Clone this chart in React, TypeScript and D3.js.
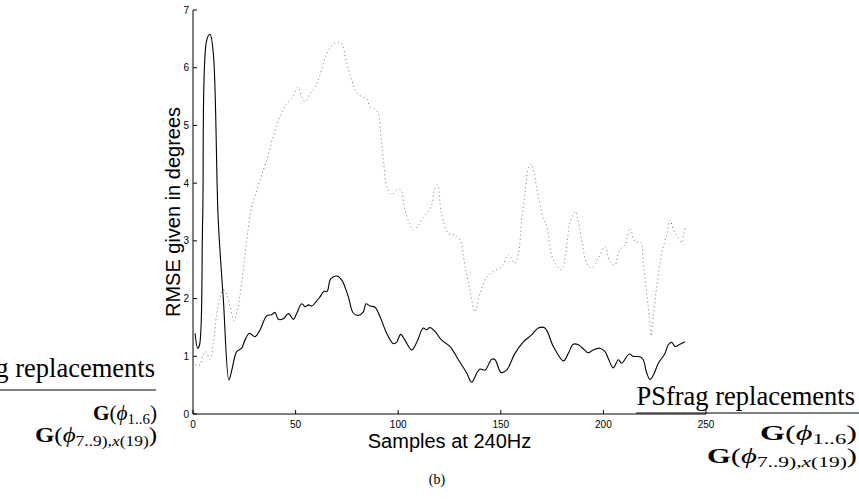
import * as d3 from "d3";

// solid curve (black)
const solidX = [1, 2.3, 3.2, 4.7, 6.7, 8.3, 9.9, 12.3, 14.8, 17.5, 18.9, 21.3, 23.7, 25.3, 27.5, 30.2, 32.7, 35.9, 38.3, 40, 41.6, 44, 46.5, 48.9, 50.5, 53, 54.6, 56.2, 57.9, 60.3, 61.9, 64, 65.3, 67.1, 70, 72.5, 75.7, 78.1, 80.8, 83, 84.3, 86.3, 88.7, 91.1, 94.4, 97.6, 99.2, 101.2, 103.3, 106.6, 109, 112.2, 113.8, 115.5, 117.9, 121.2, 125.2, 129.3, 133.4, 135.8, 138.3, 139.9, 142.3, 145.6, 147.2, 150.1, 152.8, 156.9, 161, 165, 168.3, 171.5, 175.6, 180.5, 182.9, 185.3, 187.8, 190.2, 192.6, 195, 198.3, 200.8, 202.4, 204.8, 207.3, 208.9, 212.6, 214.5, 217.8, 219.4, 221.1, 222.7, 224.3, 226.8, 230, 231.6, 233.3, 234.9, 237.3, 239.8];
const solidY = [1.4, 1.14, 1.2, 3.36, 6.48, 6.58, 6.25, 3.36, 1.98, 0.59, 0.76, 1.08, 1.14, 1.28, 1.4, 1.34, 1.46, 1.7, 1.72, 1.76, 1.64, 1.65, 1.74, 1.64, 1.74, 1.91, 1.86, 1.89, 1.87, 1.96, 2.03, 2.13, 2.12, 2.34, 2.39, 2.32, 2.03, 1.75, 1.71, 1.77, 1.91, 1.87, 1.85, 1.69, 1.4, 1.22, 1.24, 1.38, 1.28, 1.11, 1.24, 1.49, 1.46, 1.5, 1.43, 1.28, 1.17, 0.94, 0.71, 0.55, 0.71, 0.78, 0.76, 0.95, 0.94, 0.72, 0.76, 1.05, 1.25, 1.37, 1.49, 1.49, 1.17, 0.92, 1.05, 1.21, 1.2, 1.13, 1.06, 1.11, 1.14, 1.08, 0.96, 0.8, 0.94, 0.88, 1.04, 1, 0.99, 0.94, 0.71, 0.6, 0.67, 0.88, 1.05, 1.2, 1.24, 1.17, 1.21, 1.25];

// dotted curve (grey)
const dottedX = [1, 3.4, 4.7, 6.3, 8.3, 9.9, 11.5, 13.2, 14.8, 16.4, 18, 20, 21.6, 23.7, 26.2, 28.6, 30.2, 32.7, 35.9, 39.1, 42.4, 45.3, 48, 51.3, 53, 54.6, 57, 59.5, 61.9, 65.2, 68.4, 70.8, 72.4, 74.9, 77.3, 79.8, 82.2, 84.3, 86.3, 88.7, 90.3, 91.5, 92.8, 94.4, 96.8, 99.3, 101.2, 103.3, 105.5, 107.4, 109.5, 111.5, 114.7, 116.3, 117.9, 119.2, 121, 124.4, 127.6, 130.1, 132.6, 135, 137.4, 139.9, 143.1, 146.4, 150.4, 153.7, 156.9, 158.6, 160.2, 161.5, 162.3, 163.4, 164.9, 166.2, 167.5, 169.1, 170.7, 172.4, 175.6, 179.7, 181.7, 183.7, 186.3, 189.4, 191.9, 194.3, 197.5, 200.8, 203.2, 205.6, 207.8, 210.5, 213, 215.4, 218.1, 219.4, 221.1, 222.4, 223.2, 224.3, 226, 228.4, 230.9, 232.5, 234.1, 236.5, 238.1, 239.2, 240];
const dottedY = [0.85, 0.85, 1, 1.08, 0.95, 1.22, 1.72, 2.03, 2.15, 2.08, 1.87, 1.62, 1.79, 2.27, 3.02, 3.59, 3.77, 4.06, 4.4, 4.81, 5.15, 5.36, 5.46, 5.66, 5.5, 5.41, 5.55, 5.66, 5.87, 6.25, 6.41, 6.44, 6.42, 6.08, 5.79, 5.56, 5.5, 5.47, 5.33, 5.28, 5.2, 4.81, 4.4, 3.94, 3.8, 3.88, 3.89, 3.54, 3.3, 3.19, 3.25, 3.36, 3.51, 3.62, 3.91, 3.97, 3.5, 3.13, 3.1, 3.02, 2.55, 2.15, 1.77, 2.09, 2.38, 2.47, 2.55, 2.76, 2.61, 2.78, 3.36, 3.72, 3.98, 4.26, 4.33, 4.18, 3.91, 3.65, 3.39, 3.25, 2.67, 2.5, 2.8, 3.31, 3.51, 3.02, 2.61, 2.53, 2.7, 2.9, 2.64, 2.58, 2.84, 2.93, 3.22, 2.98, 2.98, 2.61, 2.09, 1.69, 1.35, 1.69, 2.21, 2.78, 3.12, 3.36, 3.19, 3.05, 2.97, 3.12, 3.27];

const xTicks = [0, 50, 100, 150, 200, 250];
const yTicks = [0, 1, 2, 3, 4, 5, 6, 7];

const sans = "'Liberation Sans', Arial, sans-serif";
const serif = "'Liberation Serif', 'Times New Roman', serif";

type ReplProps = {
  x: number;
  y: number;
  underline: [number, number, number];
  lines: [number, number];
  widths: [number, number];
};

function Replacements({ x, y, underline, lines, widths }: ReplProps) {
  return (
    <g fontFamily={serif} fill="#000">
      <text x={x} y={y} fontSize={26.5} textAnchor="end">PSfrag replacements</text>
      <line x1={underline[0]} x2={underline[1]} y1={underline[2]} y2={underline[2]} stroke="#000" strokeWidth={1} />
      <text x={x + 2 - widths[0]} y={lines[0]} fontSize={20} textLength={widths[0]} lengthAdjust="spacingAndGlyphs">
        <tspan fontWeight="bold">G</tspan>
        <tspan>(</tspan>
        <tspan fontStyle="italic">ϕ</tspan>
        <tspan fontSize={14} dy={4}>1..6</tspan>
        <tspan dy={-4}>)</tspan>
      </text>
      <text x={x + 2 - widths[1]} y={lines[1]} fontSize={20} textLength={widths[1]} lengthAdjust="spacingAndGlyphs">
        <tspan fontWeight="bold">G</tspan>
        <tspan>(</tspan>
        <tspan fontStyle="italic">ϕ</tspan>
        <tspan fontSize={14} dy={4}>7..9),</tspan>
        <tspan fontSize={14} fontStyle="italic">x</tspan>
        <tspan fontSize={14}>(19)</tspan>
        <tspan dy={-4}>)</tspan>
      </text>
    </g>
  );
}

export default function App() {
  const width = 859;
  const height = 499;
  const x = d3.scaleLinear().domain([0, 250]).range([193, 706]);
  const y = d3.scaleLinear().domain([0, 7]).range([414, 10]);

  const line = d3
    .line<[number, number]>()
    .x((d) => x(d[0]))
    .y((d) => y(d[1]))
    .curve(d3.curveCatmullRom.alpha(0.5));

  const solid = solidX.map((v, i) => [v, solidY[i]] as [number, number]);
  const dotted = dottedX.map((v, i) => [v, dottedY[i]] as [number, number]);

  return (
    <svg width={width} height={height} style={{ position: "absolute", left: 0, top: 0, background: "#fff" }}>
      <path d={line(dotted) || ""} fill="none" stroke="#777" strokeWidth={1} strokeDasharray="1 3" />
      <path d={line(solid) || ""} fill="none" stroke="#000" strokeWidth={1.1} />

      {/* axes */}
      <line x1={x(0)} x2={x(0)} y1={y(0)} y2={y(7)} stroke="#000" strokeWidth={1} />
      <line x1={x(0)} x2={x(250)} y1={y(0)} y2={y(0)} stroke="#000" strokeWidth={1} />
      {yTicks.map((t) => (
        <g key={"y" + t}>
          <line x1={x(0)} x2={x(0) + 4} y1={y(t)} y2={y(t)} stroke="#000" />
          <text x={x(0) - 4} y={y(t) + 3.5} fontSize={10} fontFamily={sans} textAnchor="end">{t}</text>
        </g>
      ))}
      {xTicks.map((t) => (
        <g key={"x" + t}>
          <line x1={x(t)} x2={x(t)} y1={y(0)} y2={y(0) - 4} stroke="#000" />
          <text x={x(t)} y={y(0) + 14} fontSize={10} fontFamily={sans} textAnchor="middle">{t}</text>
        </g>
      ))}

      <text x={x(125)} y={448} fontSize={20} fontFamily={sans} textAnchor="middle">Samples at 240Hz</text>
      <text transform={`translate(180,${y(3.5)}) rotate(-90)`} fontSize={20} fontFamily={sans} textAnchor="middle">RMSE given in degrees</text>
      <text x={437} y={484} fontSize={14} fontFamily={serif} textAnchor="middle">(b)</text>

      <Replacements x={155} y={377} underline={[0, 156, 390]} lines={[420, 442]} widths={[64, 122]} />
      <Replacements x={855} y={405} underline={[636, 859, 413]} lines={[440, 463]} widths={[97, 150]} />
    </svg>
  );
}
